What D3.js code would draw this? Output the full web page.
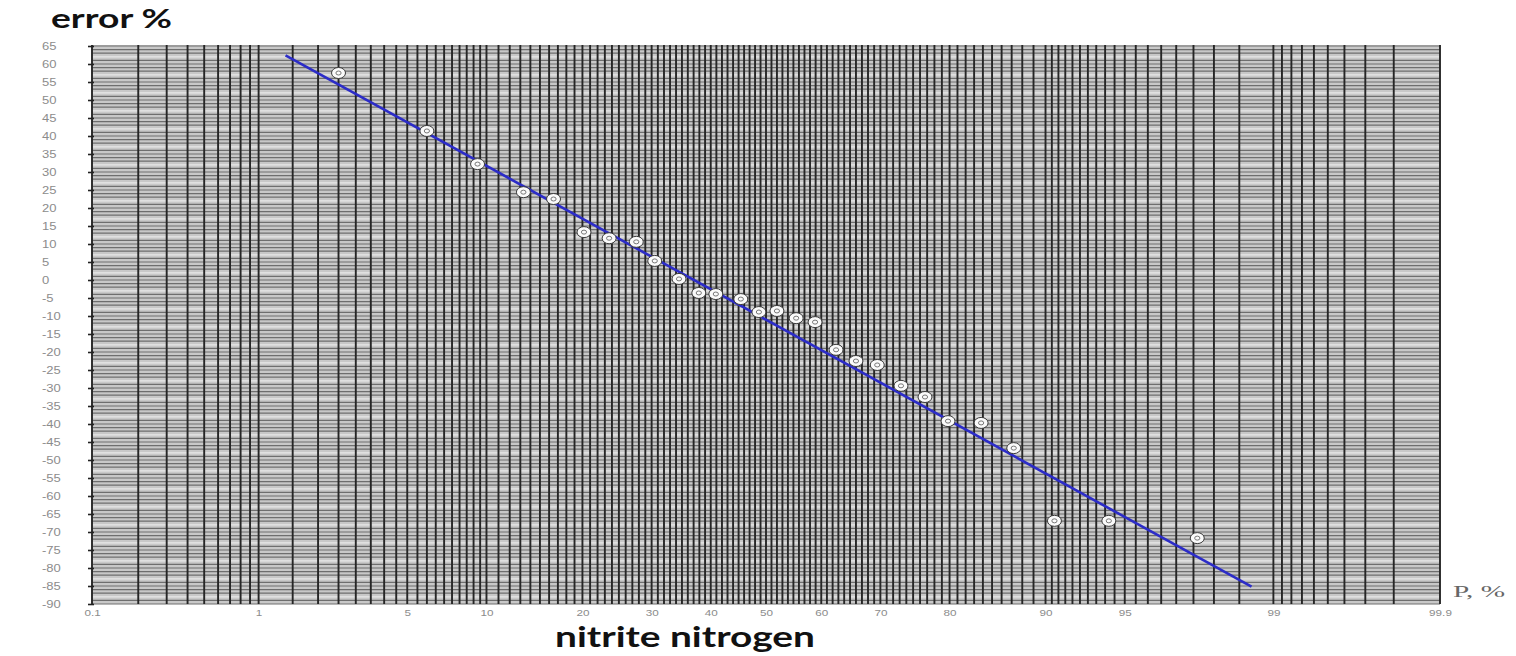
<!DOCTYPE html>
<html>
<head>
<meta charset="utf-8">
<script src="https://cdn.jsdelivr.net/npm/d3@7"></script>
<style>
  html, body { margin: 0; padding: 0; background: #ffffff; }
  svg { display: block; }
</style>
</head>
<body>
<svg id="chart" width="1516" height="656"></svg>
<script>
// ---------------- data ----------------
// probability axis tick labels (percent)
const probTicks = [0.1, 1, 5, 10, 20, 30, 40, 50, 60, 70, 80, 90, 95, 99, 99.9];
const probTickLabels = ["0.1", "1", "5", "10", "20", "30", "40", "50", "60", "70", "80", "90", "95", "99", "99.9"];
// error axis ticks
const errTicks = [65, 60, 55, 50, 45, 40, 35, 30, 25, 20, 15, 10, 5, 0, -5, -10, -15, -20, -25, -30, -35, -40, -45, -50, -55, -60, -65, -70, -75, -80, -85, -90];
// observed points: cumulative probability (%) and error (%)
const pointProb = [2.5, 6.0, 9.3, 13.3, 16.5, 20.2, 23.6, 27.6, 30.5, 34.5, 37.9, 40.9, 45.4, 48.7, 52.0, 55.5, 58.9, 62.6, 66.0, 69.5, 73.2, 76.7, 79.8, 83.8, 87.2, 90.7, 94.2, 97.6];
const pointErr  = [57.5, 41.4, 32.2, 24.4, 22.5, 13.3, 11.6, 10.6, 5.3, 0.3, -3.6, -3.9, -5.3, -8.9, -8.6, -10.6, -11.7, -19.4, -22.5, -23.6, -29.4, -32.5, -39.2, -39.7, -46.7, -66.9, -66.9, -71.7];
// fitted line end points
const fitProb = [1.38, 98.7];
const fitErr  = [62.4, -85.2];

// ---------------- helpers ----------------
function qnorm(p) {
  const a = [-3.969683028665376e+01, 2.209460984245205e+02, -2.759285104469687e+02, 1.383577518672690e+02, -3.066479806614716e+01, 2.506628277459239e+00];
  const b = [-5.447609879822406e+01, 1.615858368580409e+02, -1.556989798598866e+02, 6.680131188771972e+01, -1.328068155288572e+01];
  const c = [-7.784894002430293e-03, -3.223964580411365e-01, -2.400758277161838e+00, -2.549732539343734e+00, 4.374664141464968e+00, 2.938163982698783e+00];
  const d = [7.784695709041462e-03, 3.224671290700398e-01, 2.445134137142996e+00, 3.754408661907416e+00];
  const pl = 0.02425, ph = 1 - pl;
  let q, r;
  if (p < pl) {
    q = Math.sqrt(-2 * Math.log(p));
    return (((((c[0]*q+c[1])*q+c[2])*q+c[3])*q+c[4])*q+c[5]) / ((((d[0]*q+d[1])*q+d[2])*q+d[3])*q+1);
  } else if (p <= ph) {
    q = p - 0.5; r = q * q;
    return (((((a[0]*r+a[1])*r+a[2])*r+a[3])*r+a[4])*r+a[5])*q / (((((b[0]*r+b[1])*r+b[2])*r+b[3])*r+b[4])*r+1);
  } else {
    q = Math.sqrt(-2 * Math.log(1 - p));
    return -(((((c[0]*q+c[1])*q+c[2])*q+c[3])*q+c[4])*q+c[5]) / ((((d[0]*q+d[1])*q+d[2])*q+d[3])*q+1);
  }
}
const zOf = pct => qnorm(pct / 100);

// ---------------- layout ----------------
const svg = d3.select("#chart");
const pLeft = 92, pRight = 1440, pTop = 46, pBottom = 604;

const xz = d3.scaleLinear().domain([zOf(0.1), zOf(99.9)]).range([pLeft, pRight]);
const X = pct => xz(zOf(pct));
const y = d3.scaleLinear().domain([-90, 65]).range([pBottom, pTop]);

// grid probabilities (structure of the probability paper)
const gridProb = [];
const addRange = (a, b, s) => { for (let v = a; v < b - 1e-9; v += s) gridProb.push(Math.round(v * 100) / 100); };
addRange(0.1, 1, 0.1);
addRange(1, 10, 0.5);
addRange(10, 90, 1);
addRange(90, 99, 0.5);
addRange(99, 99.95, 0.1);

// background
const plot = svg.append("g");
plot.append("rect")
  .attr("x", pLeft).attr("y", pTop - 1)
  .attr("width", pRight - pLeft).attr("height", pBottom - pTop + 1)
  .attr("fill", "#c8c8c8");

// horizontal fine lines every 1 unit
plot.append("g").selectAll("line")
  .data(d3.range(-90, 66, 1))
  .join("line")
  .attr("x1", pLeft).attr("x2", pRight)
  .attr("y1", d => y(d)).attr("y2", d => y(d))
  .attr("stroke", d => (((d % 5) + 5) % 5 === 2) ? "#e8e8e8" : "#6e6e6e")
  .attr("stroke-width", 1.2);

// vertical probability lines
plot.append("g").selectAll("line")
  .data(gridProb)
  .join("line")
  .attr("x1", d => X(d)).attr("x2", d => X(d))
  .attr("y1", pTop - 1).attr("y2", pBottom)
  .attr("stroke", "#262626")
  .attr("stroke-width", 1.9);

const stretch = (sel, k) => sel.each(function () {
  const w = this.getComputedTextLength();
  d3.select(this).attr("textLength", w * k).attr("lengthAdjust", "spacingAndGlyphs");
});

// y axis (labels left-aligned, as in the original)
const yAxis = d3.axisLeft(y).tickValues(errTicks).tickSize(6).tickPadding(25).tickFormat(d => String(d));
const gy = svg.append("g").attr("transform", `translate(${pLeft + 2},0)`).call(yAxis);
gy.select(".domain").remove();
gy.selectAll(".tick line").attr("stroke", "#222").attr("stroke-width", 1.6);
gy.selectAll(".tick text")
  .attr("text-anchor", "start").attr("x", 42 - (pLeft + 2))
  .attr("fill", "#8c8c8c").style("font-family", "'Liberation Sans', Arial, sans-serif").style("font-size", "10px")
  .call(stretch, 1.3);

// x axis
const xAxis = d3.axisBottom(xz).tickValues(probTicks.map(zOf)).tickSize(0).tickPadding(6)
  .tickFormat((d, i) => probTickLabels[i]);
const gx = svg.append("g").attr("transform", `translate(0,${pBottom})`).call(xAxis);
gx.select(".domain").remove();
gx.selectAll(".tick text").attr("fill", "#8c8c8c").style("font-family", "'Liberation Sans', Arial, sans-serif").style("font-size", "9px")
  .call(stretch, 1.3);

// fit line
const line = d3.line().x(d => X(d[0])).y(d => y(d[1]));
svg.append("path")
  .datum(fitProb.map((p, i) => [p, fitErr[i]]))
  .attr("d", line)
  .attr("fill", "none")
  .attr("stroke", "#2c2cc8")
  .attr("stroke-width", 2.6);

// points
const pts = svg.append("g").selectAll("g")
  .data(pointProb.map((p, i) => ({ p, e: pointErr[i] })))
  .join("g")
  .attr("transform", d => `translate(${X(d.p)},${y(d.e)})`);
pts.append("ellipse").attr("rx", 7).attr("ry", 5.5)
  .attr("fill", "#fafafa").attr("stroke", "#3a3a3a").attr("stroke-width", 1);
pts.append("ellipse").attr("rx", 2.6).attr("ry", 2)
  .attr("fill", "none").attr("stroke", "#777").attr("stroke-width", 1);

// titles
svg.append("text")
  .attr("x", 51).attr("y", 28)
  .attr("textLength", 121).attr("lengthAdjust", "spacingAndGlyphs")
  .style("font-family", "Lato, 'Open Sans', sans-serif").style("font-weight", "bold").style("font-size", "27px")
  .attr("fill", "#111")
  .text("error %");

svg.append("text")
  .attr("x", 555).attr("y", 647)
  .attr("textLength", 260).attr("lengthAdjust", "spacingAndGlyphs")
  .style("font-family", "Lato, 'Open Sans', sans-serif").style("font-weight", "bold").style("font-size", "28px")
  .attr("fill", "#111")
  .text("nitrite nitrogen");

svg.append("text")
  .attr("x", 1453).attr("y", 597)
  .attr("textLength", 52).attr("lengthAdjust", "spacingAndGlyphs")
  .style("font-family", "'Liberation Serif', 'DejaVu Serif', serif").style("font-size", "16px")
  .attr("fill", "#666")
  .text("P, %");
</script>
</body>
</html>
